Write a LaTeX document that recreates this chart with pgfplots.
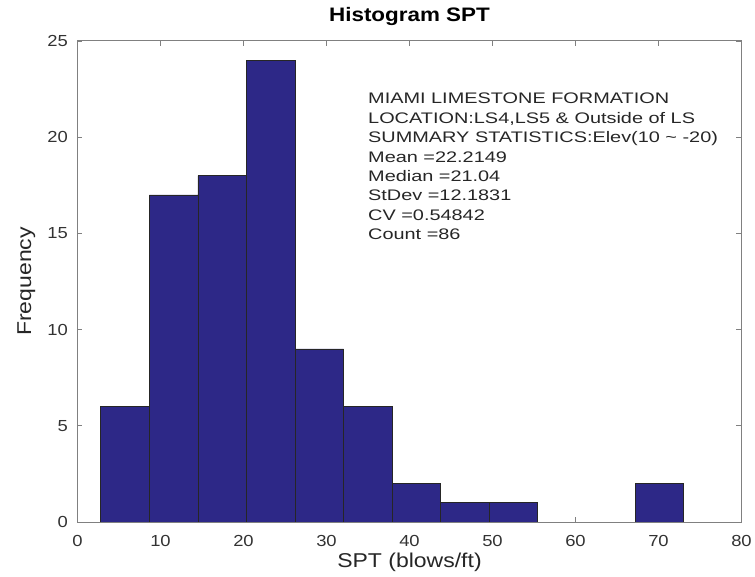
\documentclass[border=0pt]{standalone}
\usepackage{fontspec}
\setmainfont{Liberation Sans}[FakeStretch=1.15]
\newfontfamily\annfont{Liberation Sans}[FakeStretch=1.3]
\usepackage{pgfplots}
\pgfplotsset{compat=1.18}
\definecolor{barblue}{RGB}{45,40,135}
\begin{document}
\begin{tikzpicture}
\begin{axis}[
  scale only axis, width=664bp, height=481bp,
  xmin=0, xmax=80, ymin=0, ymax=25,
  xtick={0,10,...,80}, ytick={0,5,...,25},
  tick align=inside, major tick length=5bp,
  axis line style={draw=black!50, line width=1bp},
  every tick/.style={draw=black!50, line width=0.9bp},
  /pgf/number format/assume math mode=true,
  ticklabel style={font=\fontsize{16bp}{19bp}\selectfont, text=black!80, inner sep=0pt},
  xticklabel style={anchor=base, yshift=-24.5bp},
  yticklabel style={anchor=east, xshift=-9.5bp},
  xlabel={SPT (blows/ft)}, ylabel={Frequency},
  xlabel style={at={(axis description cs:0.5,0)}, anchor=base, yshift=-45.3bp, inner sep=0pt, font=\fontsize{20bp}{22bp}\selectfont, text=black!85},
  ylabel style={at={(axis description cs:-0.070,0.5)}, anchor=base, rotate=0, inner sep=0pt, font=\fontsize{20bp}{22bp}\selectfont, text=black!85},
  title={Histogram SPT},
  title style={at={(axis description cs:0.5,1)}, anchor=base, yshift=14bp, inner sep=0pt, font=\fontsize{19.5bp}{22bp}\selectfont\bfseries},
]
\addplot[ybar interval, fill=barblue, draw=black!85, line width=0.6bp] coordinates {
  (2.8,6) (8.65,17) (14.5,18) (20.35,24) (26.2,9) (32.05,6) (37.9,2) (43.75,1) (49.6,1) (55.45,1)
};
\addplot[ybar interval, fill=barblue, draw=black!85, line width=0.6bp] coordinates {
  (67.15,2) (73.0,2)
};
\node[anchor=north west, inner sep=0pt, align=left, font=\annfont\fontsize{15.3bp}{19.4bp}\selectfont, text=black!85] at (axis cs:35.0,22.3) {MIAMI LIMESTONE FORMATION\\LOCATION:LS4,LS5 \& Outside of LS\\SUMMARY STATISTICS:Elev(10 \textasciitilde\ -20)\\Mean =22.2149\\Median =21.04\\StDev =12.1831\\CV =0.54842\\Count =86};
\end{axis}
\path (current axis.south west) ++(-77.5bp,-55bp) rectangle ++(755bp,577bp);
\end{tikzpicture}
\end{document}
